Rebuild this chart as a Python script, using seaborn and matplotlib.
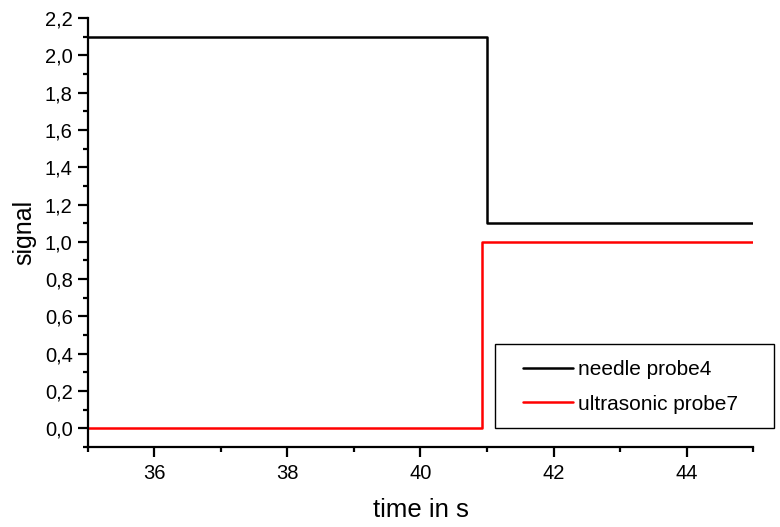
import matplotlib
matplotlib.use("Agg")
import matplotlib.pyplot as plt
import matplotlib.ticker as mticker
import matplotlib.patches as mpatches
import seaborn as sns
import pandas as pd

# data
needle_time = [35.0, 41.0, 45.0]
needle_signal = [2.1, 1.1, 1.1]
ultra_time = [35.0, 40.92, 45.0]
ultra_signal = [0.0, 1.0, 1.0]
series_names = ["needle probe4", "ultrasonic probe7"]
series_colors = ["#000000", "#ff0000"]
x_major = [36, 38, 40, 42, 44]
y_major = [0.0, 0.2, 0.4, 0.6, 0.8, 1.0, 1.2, 1.4, 1.6, 1.8, 2.0, 2.2]

df = pd.DataFrame({
    "time": needle_time + ultra_time,
    "signal": needle_signal + ultra_signal,
    "probe": [series_names[0]] * len(needle_time) + [series_names[1]] * len(ultra_time),
})

sns.set_theme(style="ticks")
plt.rcParams["font.family"] = ["Liberation Sans", "DejaVu Sans"]
plt.rcParams["text.color"] = "black"
plt.rcParams["axes.labelcolor"] = "black"
plt.rcParams["xtick.color"] = "black"
plt.rcParams["ytick.color"] = "black"

fig = plt.figure(figsize=(7.8, 5.27), dpi=100)
ax = fig.add_axes([0.1128, 0.1518, 0.8526, 0.814])

sns.lineplot(data=df, x="time", y="signal", hue="probe", palette=series_colors,
             drawstyle="steps-post", linewidth=1.8, ax=ax, sort=False, legend=True)

ax.set_xlim(35, 45)
ax.set_ylim(-0.1, 2.2)
ax.xaxis.set_major_locator(mticker.FixedLocator(x_major))
ax.xaxis.set_minor_locator(mticker.MultipleLocator(1))
ax.yaxis.set_major_locator(mticker.FixedLocator(y_major))
ax.yaxis.set_minor_locator(mticker.MultipleLocator(0.1))
ax.yaxis.set_major_formatter(mticker.FuncFormatter(lambda v, p: f"{v:.1f}".replace(".", ",")))
ax.xaxis.set_major_formatter(mticker.FuncFormatter(lambda v, p: f"{v:.0f}"))

for s in ["top", "right"]:
    ax.spines[s].set_visible(False)
for s in ["left", "bottom"]:
    ax.spines[s].set_linewidth(1.6)
    ax.spines[s].set_color("black")

ax.tick_params(which="major", direction="out", length=7, width=1.6, labelsize=14.5,
               colors="black", labelcolor="black")
ax.tick_params(axis="x", which="major", pad=5)
ax.tick_params(axis="y", which="major", pad=4)
ax.tick_params(which="minor", direction="out", length=3.6, width=1.6)

ax.set_xlabel("time in s", fontsize=18.5, labelpad=11, color="black")
ax.set_ylabel("signal", fontsize=18, labelpad=6, color="black")

h, l = ax.get_legend_handles_labels()
leg = ax.legend(h, l, loc="center left", bbox_to_anchor=(0.6705, 0.2657),
                bbox_transform=fig.transFigure, frameon=False,
                fontsize=15, handlelength=2.4, handletextpad=0.25,
                borderpad=0, labelspacing=0.75, borderaxespad=0)
for t in leg.get_texts():
    t.set_color("black")
rect = mpatches.Rectangle((0.6346, 0.1879), 0.3577, 0.1594, transform=fig.transFigure,
                          facecolor="white", edgecolor="black", linewidth=1.0,
                          clip_on=False, zorder=4)
ax.add_patch(rect)

fig.savefig("out.png", dpi=100)
